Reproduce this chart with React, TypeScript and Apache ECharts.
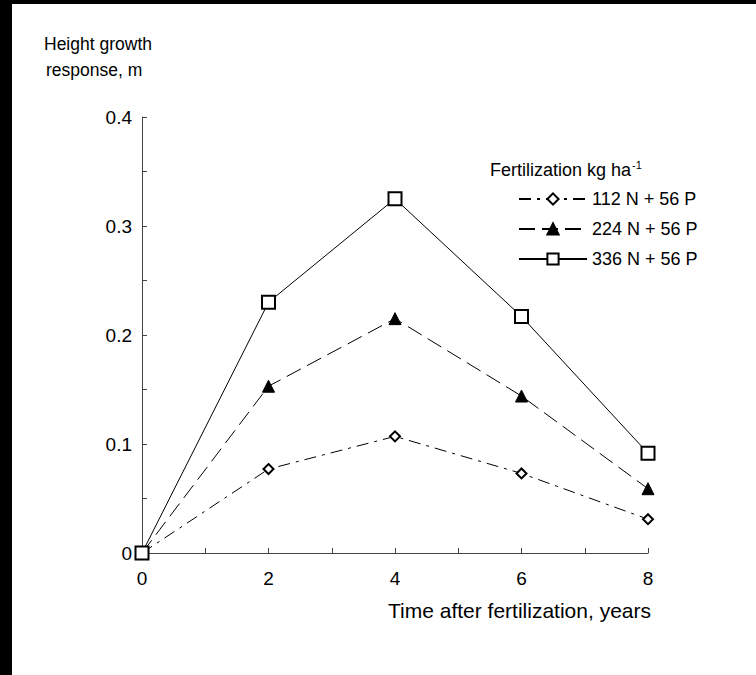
import React, { useEffect, useRef } from "react";
import * as echarts from "echarts";

const years = [0, 2, 4, 6, 8];
const series112 = [0, 0.077, 0.107, 0.073, 0.031];
const series224 = [0, 0.153, 0.215, 0.144, 0.059];
const series336 = [0, 0.23, 0.325, 0.217, 0.0915];
const seriesNames = ["112 N + 56 P", "224 N + 56 P", "336 N + 56 P"];
const xTicks = [0, 2, 4, 6, 8];
const yTicks = [0, 0.1, 0.2, 0.3, 0.4];

const FONT = "'Liberation Sans', Arial, Helvetica, sans-serif";

export default function App() {
  const ref = useRef<HTMLDivElement>(null);
  useEffect(() => {
    if (!ref.current) return;
    const chart = echarts.init(ref.current, null, { renderer: "svg" });
    const pts = (vals: number[]) => years.map((x, i) => [x, vals[i]]);
    const option = {
      animation: false,
      backgroundColor: "#ffffff",
      textStyle: { fontFamily: FONT, color: "#000" },
      grid: { left: 142, right: 108, top: 117, bottom: 122, containLabel: false },
      xAxis: {
        type: "value",
        min: 0,
        max: 8,
        interval: 2,
        axisLine: { show: true, onZero: false, lineStyle: { color: "#444", width: 1 } },
        axisTick: { show: true, inside: true, length: 5, lineStyle: { color: "#444" } },
        minorTick: { show: true, splitNumber: 2, length: 5, lineStyle: { color: "#444" } },
        splitLine: { show: false },
        axisLabel: {
          margin: 16,
          fontSize: 19,
          color: "#000",
          fontFamily: FONT,
          formatter: (v: number) => (xTicks.includes(v) ? String(v) : ""),
        },
      },
      yAxis: {
        type: "value",
        min: 0,
        max: 0.4,
        interval: 0.1,
        axisLine: { show: true, onZero: false, lineStyle: { color: "#444", width: 1 } },
        axisTick: { show: true, inside: true, length: 5, lineStyle: { color: "#444" } },
        minorTick: { show: true, splitNumber: 2, length: 5, lineStyle: { color: "#444" } },
        splitLine: { show: false },
        axisLabel: {
          margin: 10,
          fontSize: 19,
          color: "#000",
          fontFamily: FONT,
          formatter: (v: number) => {
            const t = yTicks.find((y) => Math.abs(y - v) < 1e-9);
            if (t === undefined) return "";
            return t === 0 ? "0" : t.toFixed(1);
          },
        },
      },
      legend: {
        orient: "vertical",
        left: 518,
        top: 190,
        padding: 0,
        itemWidth: 68,
        itemHeight: 14,
        itemGap: 12,
        textStyle: { fontSize: 18, color: "#000", fontFamily: FONT },
        data: seriesNames,
      },
      graphic: [
        { type: "rect", shape: { x: 0, y: 0, width: 12, height: 675 }, style: { fill: "#000" } },
        { type: "rect", shape: { x: 0, y: 0, width: 756, height: 4 }, style: { fill: "#000" } },
        {
          type: "text",
          left: 44,
          top: 35,
          style: { text: "Height growth", font: `17.5px ${FONT}`, fill: "#000" },
        },
        {
          type: "text",
          left: 46,
          top: 61,
          style: { text: "response, m", font: `17.5px ${FONT}`, fill: "#000" },
        },
        {
          type: "text",
          right: 105,
          top: 600,
          style: { text: "Time after fertilization, years", font: `21px ${FONT}`, fill: "#000" },
        },
        {
          type: "text",
          left: 490,
          top: 161,
          style: { text: "Fertilization kg ha", font: `18px ${FONT}`, fill: "#000" },
        },
        {
          type: "text",
          left: 632,
          top: 159,
          style: { text: "-1", font: `11px ${FONT}`, fill: "#000" },
        },
      ],
      series: [
        {
          name: seriesNames[0],
          type: "line",
          data: pts(series112),
          symbol: "diamond",
          symbolSize: 10,
          lineStyle: { color: "#000", width: 1, type: [12, 6, 3, 6] },
          itemStyle: { color: "#fff", borderColor: "#000", borderWidth: 2 },
          z: 3,
        },
        {
          name: seriesNames[1],
          type: "line",
          data: pts(series224),
          symbol: "triangle",
          symbolSize: 12,
          lineStyle: { color: "#000", width: 1, type: [16, 7] },
          itemStyle: { color: "#000", borderColor: "#000", borderWidth: 1 },
          z: 3,
        },
        {
          name: seriesNames[2],
          type: "line",
          data: pts(series336),
          symbol: "rect",
          symbolSize: 13,
          lineStyle: { color: "#000", width: 1, type: "solid" },
          itemStyle: { color: "#fff", borderColor: "#000", borderWidth: 2 },
          z: 3,
        },
      ],
    };
    chart.setOption(option as any);
    return () => chart.dispose();
  }, []);
  return (
    <div
      ref={ref}
      style={{ position: "absolute", left: 0, top: 0, width: 756, height: 675 }}
    />
  );
}
